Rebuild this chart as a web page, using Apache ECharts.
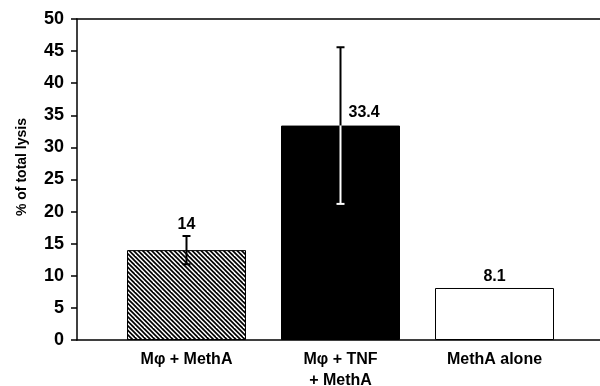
<!DOCTYPE html>
<html><head><meta charset="utf-8">
<script src="https://cdn.jsdelivr.net/npm/echarts@6/dist/echarts.min.js"></script>
<style>html,body{margin:0;padding:0;background:#fff}#c{width:600px;height:386px}</style>
</head><body><div id="c"></div>
<script>
var categories = ['M\u03c6 + MethA', 'M\u03c6 + TNF\n+ MethA', 'MethA alone'];
var values = [14, 33.4, 8.1];
var errors = [2.2, 12.2, 0];
var valueLabels = ['14', '33.4', '8.1'];
var yTicks = [0, 5, 10, 15, 20, 25, 30, 35, 40, 45, 50];

var FONT = '"Liberation Sans", Arial, sans-serif';

function hatch() {
  var s = 9, c = document.createElement('canvas');
  c.width = s; c.height = s;
  var g = c.getContext('2d');
  g.fillStyle = '#fff'; g.fillRect(0, 0, s, s);
  g.strokeStyle = '#000'; g.lineWidth = 1.7;
  for (var k = -3; k <= 3; k++) {
    var o = k * 4.5;
    g.beginPath(); g.moveTo(o - 2, -2); g.lineTo(o + s + 2, s + 2); g.stroke();
  }
  return c;
}
var fills = [{image: hatch(), repeat: 'repeat'}, '#000', '#fff'];

var chart = echarts.init(document.getElementById('c'));
chart.setOption({
  animation: false,
  grid: [
    {left: 77, right: 0, top: 19, bottom: 46, containLabel: false, outerBoundsMode: 'none'},
    {left: 109.5, right: 28.5, top: 19, bottom: 46, containLabel: false, outerBoundsMode: 'none'}
  ],
  xAxis: [
    {gridIndex: 0, type: 'category', data: [''], axisLine: {lineStyle: {color: '#000', width: 1.5}}, axisTick: {show: false}, axisLabel: {show: false}},
    {gridIndex: 0, type: 'category', position: 'top', data: [''], axisLine: {lineStyle: {color: '#000', width: 1.5}}, axisTick: {show: false}, axisLabel: {show: false}},
    {gridIndex: 1, type: 'category', data: categories, axisLine: {show: false}, axisTick: {show: false},
     axisLabel: {color: '#000', fontFamily: FONT, fontWeight: 'bold', fontSize: 16, lineHeight: 21, margin: 9}}
  ],
  yAxis: [
    {gridIndex: 0, type: 'value', min: yTicks[0], max: yTicks[yTicks.length - 1], interval: 5,
     axisLine: {show: true, lineStyle: {color: '#000', width: 1.5}},
     axisTick: {show: true, length: 6, lineStyle: {color: '#000', width: 1.5}},
     splitLine: {show: false},
     axisLabel: {color: '#000', fontFamily: FONT, fontWeight: 'bold', fontSize: 18, margin: 13}},
    {gridIndex: 1, type: 'value', min: yTicks[0], max: yTicks[yTicks.length - 1], show: false, splitLine: {show: false}}
  ],
  graphic: [{
    type: 'text', left: 15, top: 118, rotation: Math.PI / 2,
    style: {text: '% of total lysis', fill: '#000', font: 'bold 14px ' + FONT}
  }],
  series: [
    {type: 'bar', xAxisIndex: 2, yAxisIndex: 1, barWidth: 119,
     data: values.map(function (v, i) {
       return {value: v, itemStyle: {color: fills[i], borderColor: '#000', borderWidth: 1}};
     })},
    {type: 'custom', xAxisIndex: 2, yAxisIndex: 1, z: 5,
     data: values.map(function (v, i) { return [i, v, errors[i]]; }),
     renderItem: function (params, api) {
       var i = api.value(0), v = api.value(1), e = api.value(2);
       var mid = api.coord([i, v]);
       var top = api.coord([i, v + e]);
       var bot = api.coord([i, v - e]);
       var x = mid[0], cw = 4;
       var dark = i === 1;
       var lower = dark ? '#fff' : '#000';
       var ch = [];
       if (e > 0) {
         ch.push({type: 'line', shape: {x1: x, y1: top[1], x2: x, y2: mid[1]}, style: {stroke: '#000', lineWidth: 2}});
         ch.push({type: 'line', shape: {x1: x - cw, y1: top[1], x2: x + cw, y2: top[1]}, style: {stroke: '#000', lineWidth: 2}});
         ch.push({type: 'line', shape: {x1: x, y1: mid[1], x2: x, y2: bot[1]}, style: {stroke: lower, lineWidth: 2}});
         ch.push({type: 'line', shape: {x1: x - cw, y1: bot[1], x2: x + cw, y2: bot[1]}, style: {stroke: lower, lineWidth: 2}});
       }
       var txt = valueLabels[params.dataIndex];
       if (i === 1) {
         ch.push({type: 'text', x: x + 8, y: mid[1] - 5, style: {text: txt, fill: '#000', font: 'bold 16px ' + FONT, textAlign: 'left', textVerticalAlign: 'bottom'}});
       } else {
         ch.push({type: 'text', x: x, y: top[1] - 3, style: {text: txt, fill: '#000', font: 'bold 16px ' + FONT, textAlign: 'center', textVerticalAlign: 'bottom'}});
       }
       return {type: 'group', children: ch};
     }}
  ]
});
</script></body></html>
